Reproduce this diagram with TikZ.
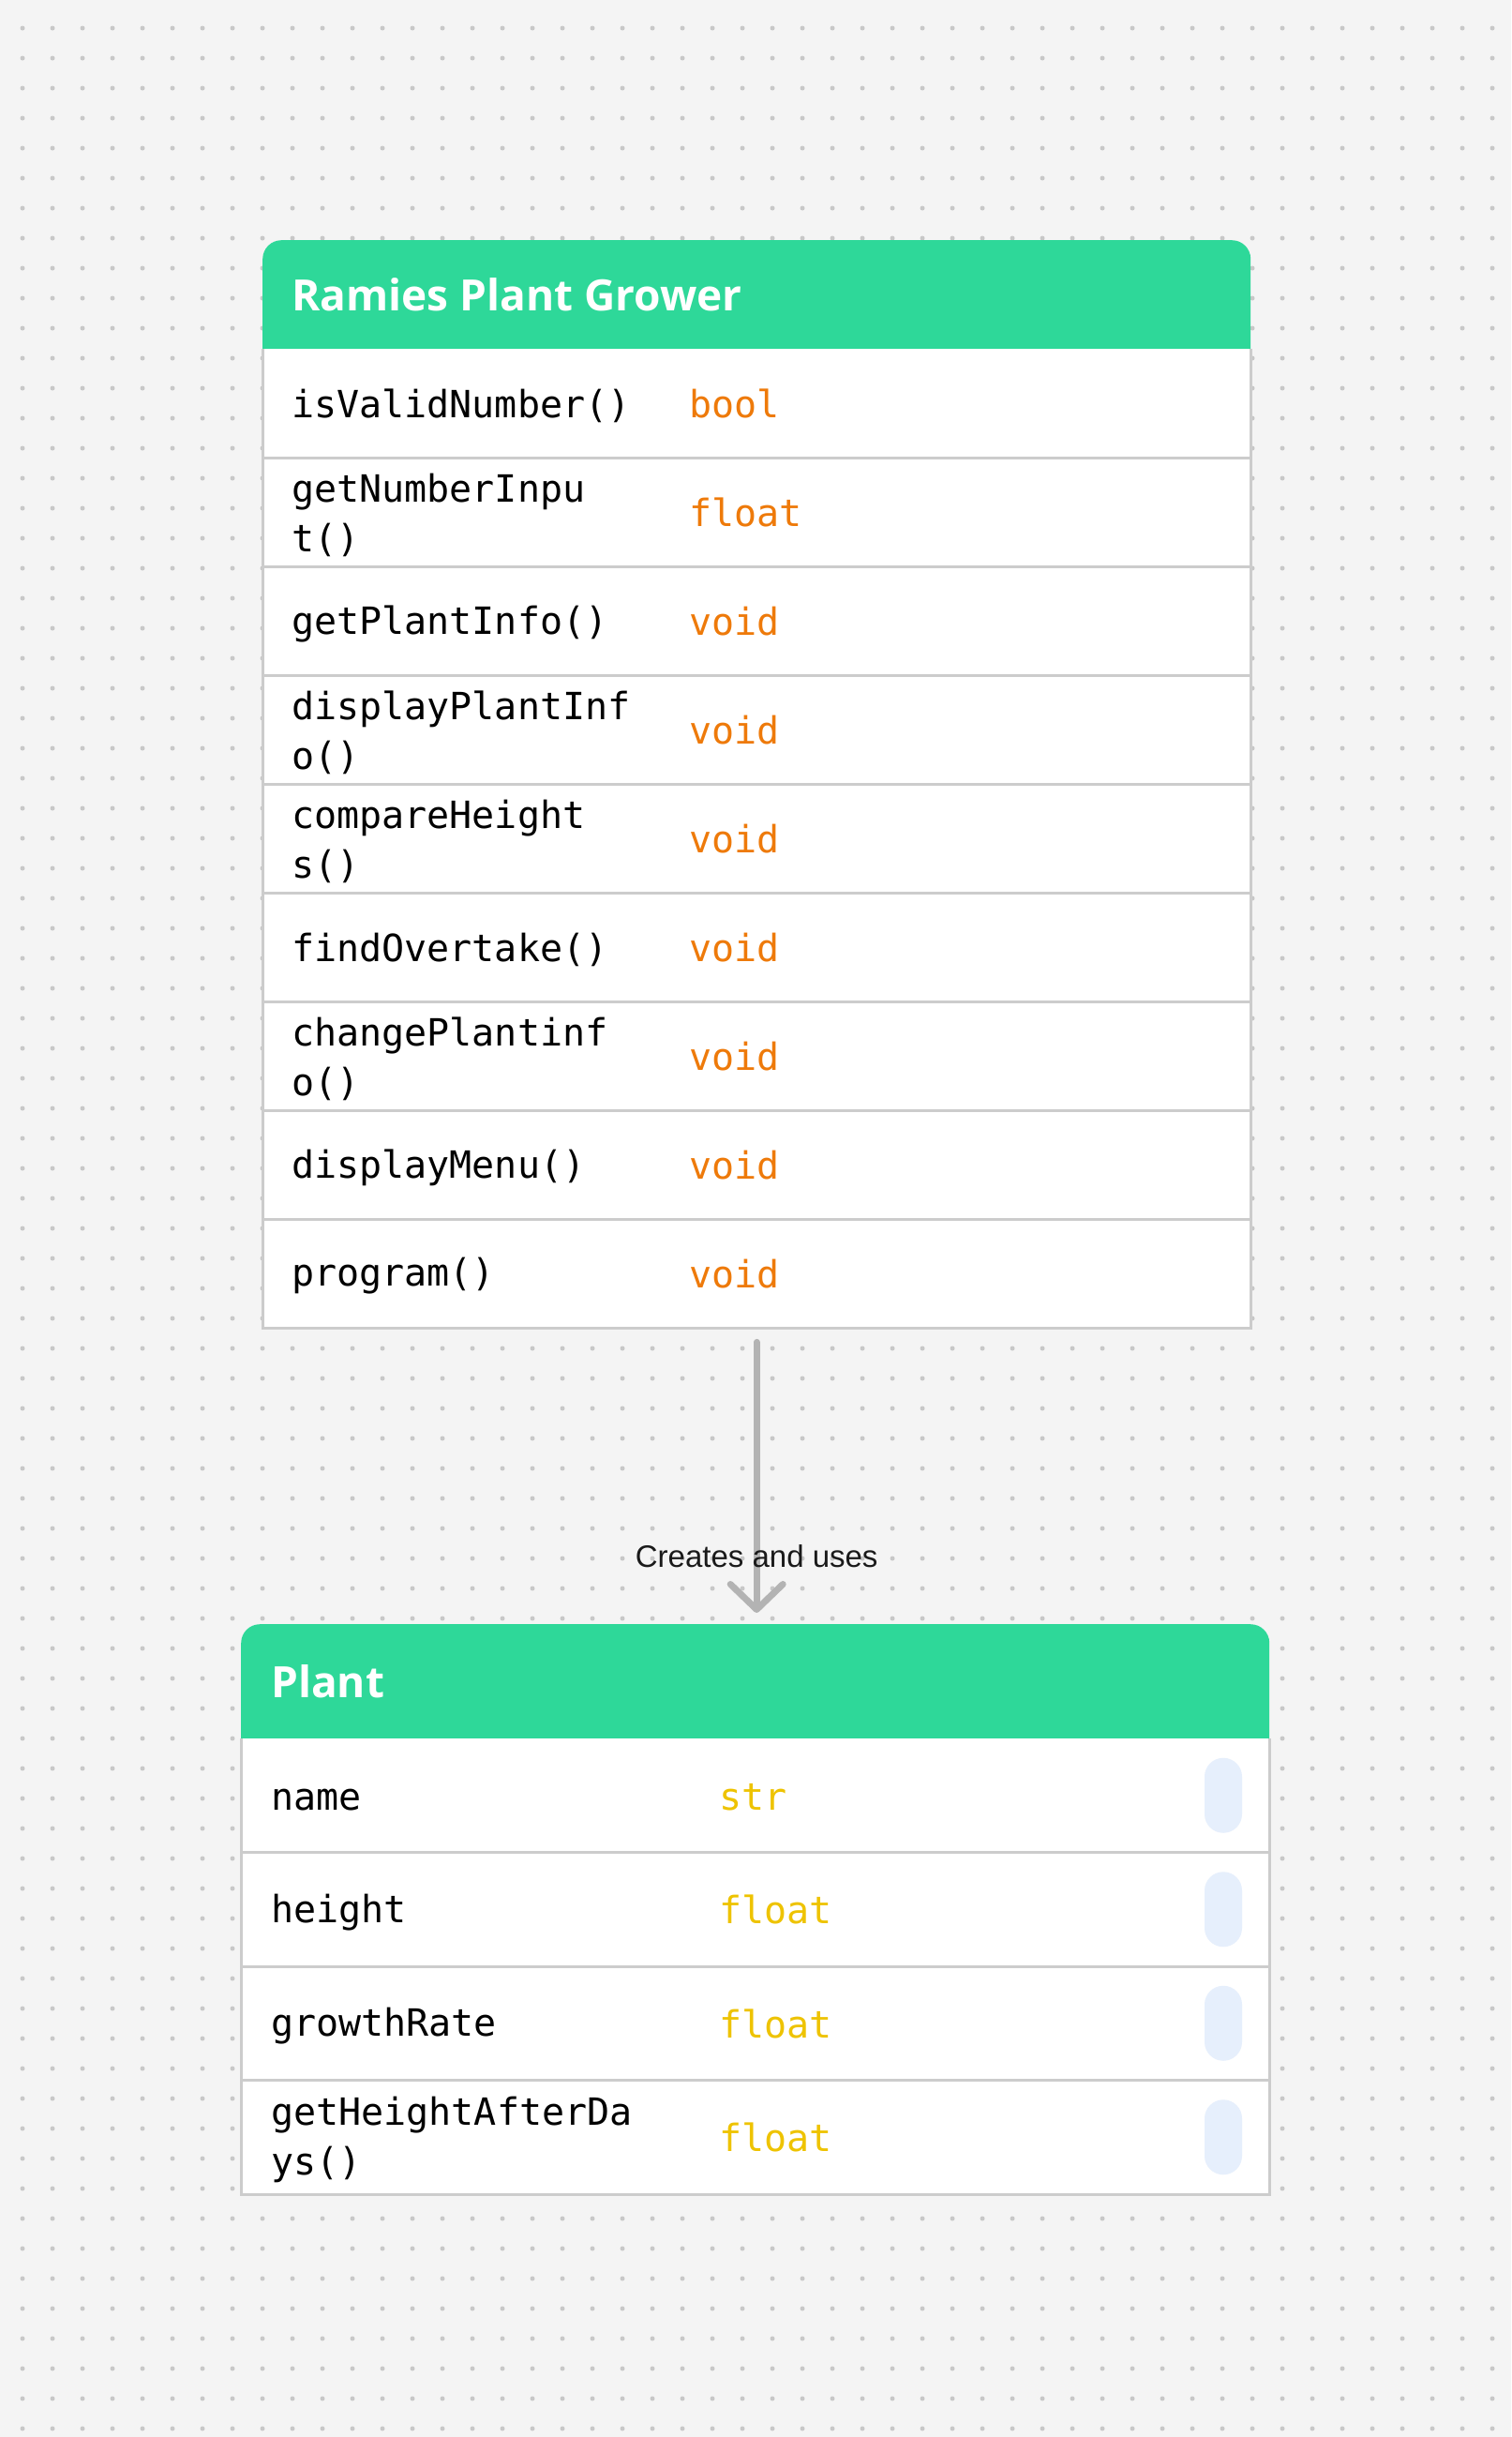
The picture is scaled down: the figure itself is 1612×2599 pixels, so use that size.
\documentclass[tikz,border=0pt]{standalone}
\usepackage{fontspec}
\setmainfont{Liberation Sans}
\setmonofont{DejaVu Sans Mono}
\newfontfamily\headfont{Open Sans}
\usetikzlibrary{arrows.meta,positioning}

\definecolor{bgcol}{HTML}{F4F4F4}
\definecolor{dotcol}{HTML}{C8C8C8}
\definecolor{headgreen}{HTML}{2ED899}
\definecolor{framegray}{HTML}{CCCCCC}
\definecolor{typeorange}{HTML}{EE7A0A}
\definecolor{typeyellow}{HTML}{EEC300}
\definecolor{pillblue}{HTML}{E6EFFC}
\definecolor{arrowgray}{HTML}{B3B3B3}
\definecolor{labeltext}{HTML}{1A1A1A}

\tikzset{
  headbox/.style={fill=headgreen, rounded corners=20pt, inner sep=0pt, anchor=north west},
  bodybox/.style={fill=white, inner sep=0pt, anchor=north west},
  frame/.style={draw=framegray, line width=3pt},
  title/.style={anchor=west, inner sep=0pt, text=white, font=\headfont\bfseries\fontsize{46}{54}\selectfont},
  member/.style={anchor=west, inner sep=0pt, yshift=-3pt, align=left, font=\ttfamily\fontsize{40}{53}\selectfont},
  rettype/.style={member, text=typeorange},
  attrtype/.style={member, text=typeyellow},
  pill/.style={fill=pillblue, rounded corners=20pt},
  linktext/.style={inner sep=0pt, text=labeltext, font=\fontsize{33}{40}\selectfont},
  link/.style={draw=arrowgray, line width=7pt, line cap=round,
    -{Straight Barb[length=27pt,width=56pt,round]}},
}

\begin{document}
\begin{tikzpicture}[x=1pt,y=-1pt]
  \fill[bgcol] (0,0) rectangle (1612,2599);
  \useasboundingbox (0,0) rectangle (1612,2599);
  % dot grid
  \foreach \i in {0,...,49}
    \foreach \j in {0,...,80}
      \fill[dotcol] (24+32*\i,30+32*\j) circle (2.5pt);

  % Ramies Plant Grower
  \node[headbox, minimum width=1054pt, minimum height=150pt] (growerhead) at (280,256) {};
  \node[bodybox, minimum width=1054pt, minimum height=1044pt] (growerbody) at (280,372) {};
  \draw[frame] (growerbody.north west) -- (growerbody.south west)
    -- (growerbody.south east) -- (growerbody.north east);
  \foreach \k in {1,...,8}
    \draw[frame] (280,372+116*\k) -- (1334,372+116*\k);
  \node[title] (growertitle) at (311,314) {Ramies Plant Grower};
  \foreach \nm/\ty [count=\k] in {isValidNumber()/bool, getNumberInpu\\t()/float,
      getPlantInfo()/void, displayPlantInf\\o()/void, compareHeight\\s()/void,
      findOvertake()/void, changePlantinf\\o()/void, displayMenu()/void, program()/void}{
    \node[member] (gm\k) at (311,314+116*\k) {\vphantom{()}\nm};
    \node[rettype] (gt\k) at (735,314+116*\k) {\vphantom{()}\ty};
  }

  % Plant
  \node[headbox, minimum width=1097pt, minimum height=150pt] (planthead) at (257,1732) {};
  \node[bodybox, minimum width=1097pt, minimum height=486pt] (plantbody) at (257,1854) {};
  \draw[frame] (plantbody.north west) -- (plantbody.south west)
    -- (plantbody.south east) -- (plantbody.north east);
  \foreach \k in {1,...,3}
    \draw[frame] (257,1854+121.5*\k) -- (1354,1854+121.5*\k);
  \node[title] (planttitle) at (289,1793) {Plant};
  \foreach \nm/\ty [count=\k] in {name/str, height/float, growthRate/float,
      getHeightAfterDa\\ys()/float}{
    \node[member] (pm\k) at (289,1793.25+121.5*\k) {\vphantom{()}\nm};
    \node[attrtype] (pt\k) at (767,1793.25+121.5*\k) {\vphantom{()}\ty};
    \fill[pill] (1285,1753.25+121.5*\k) rectangle (1325,1833.25+121.5*\k);
  }

  % connector
  \draw[link, shorten <=15pt, shorten >=12pt] (growerbody.south)
    -- node[pos=0.772, linktext] (linklabel) {Creates and uses}
    (growerbody.south |- planthead.north);
\end{tikzpicture}
\end{document}
